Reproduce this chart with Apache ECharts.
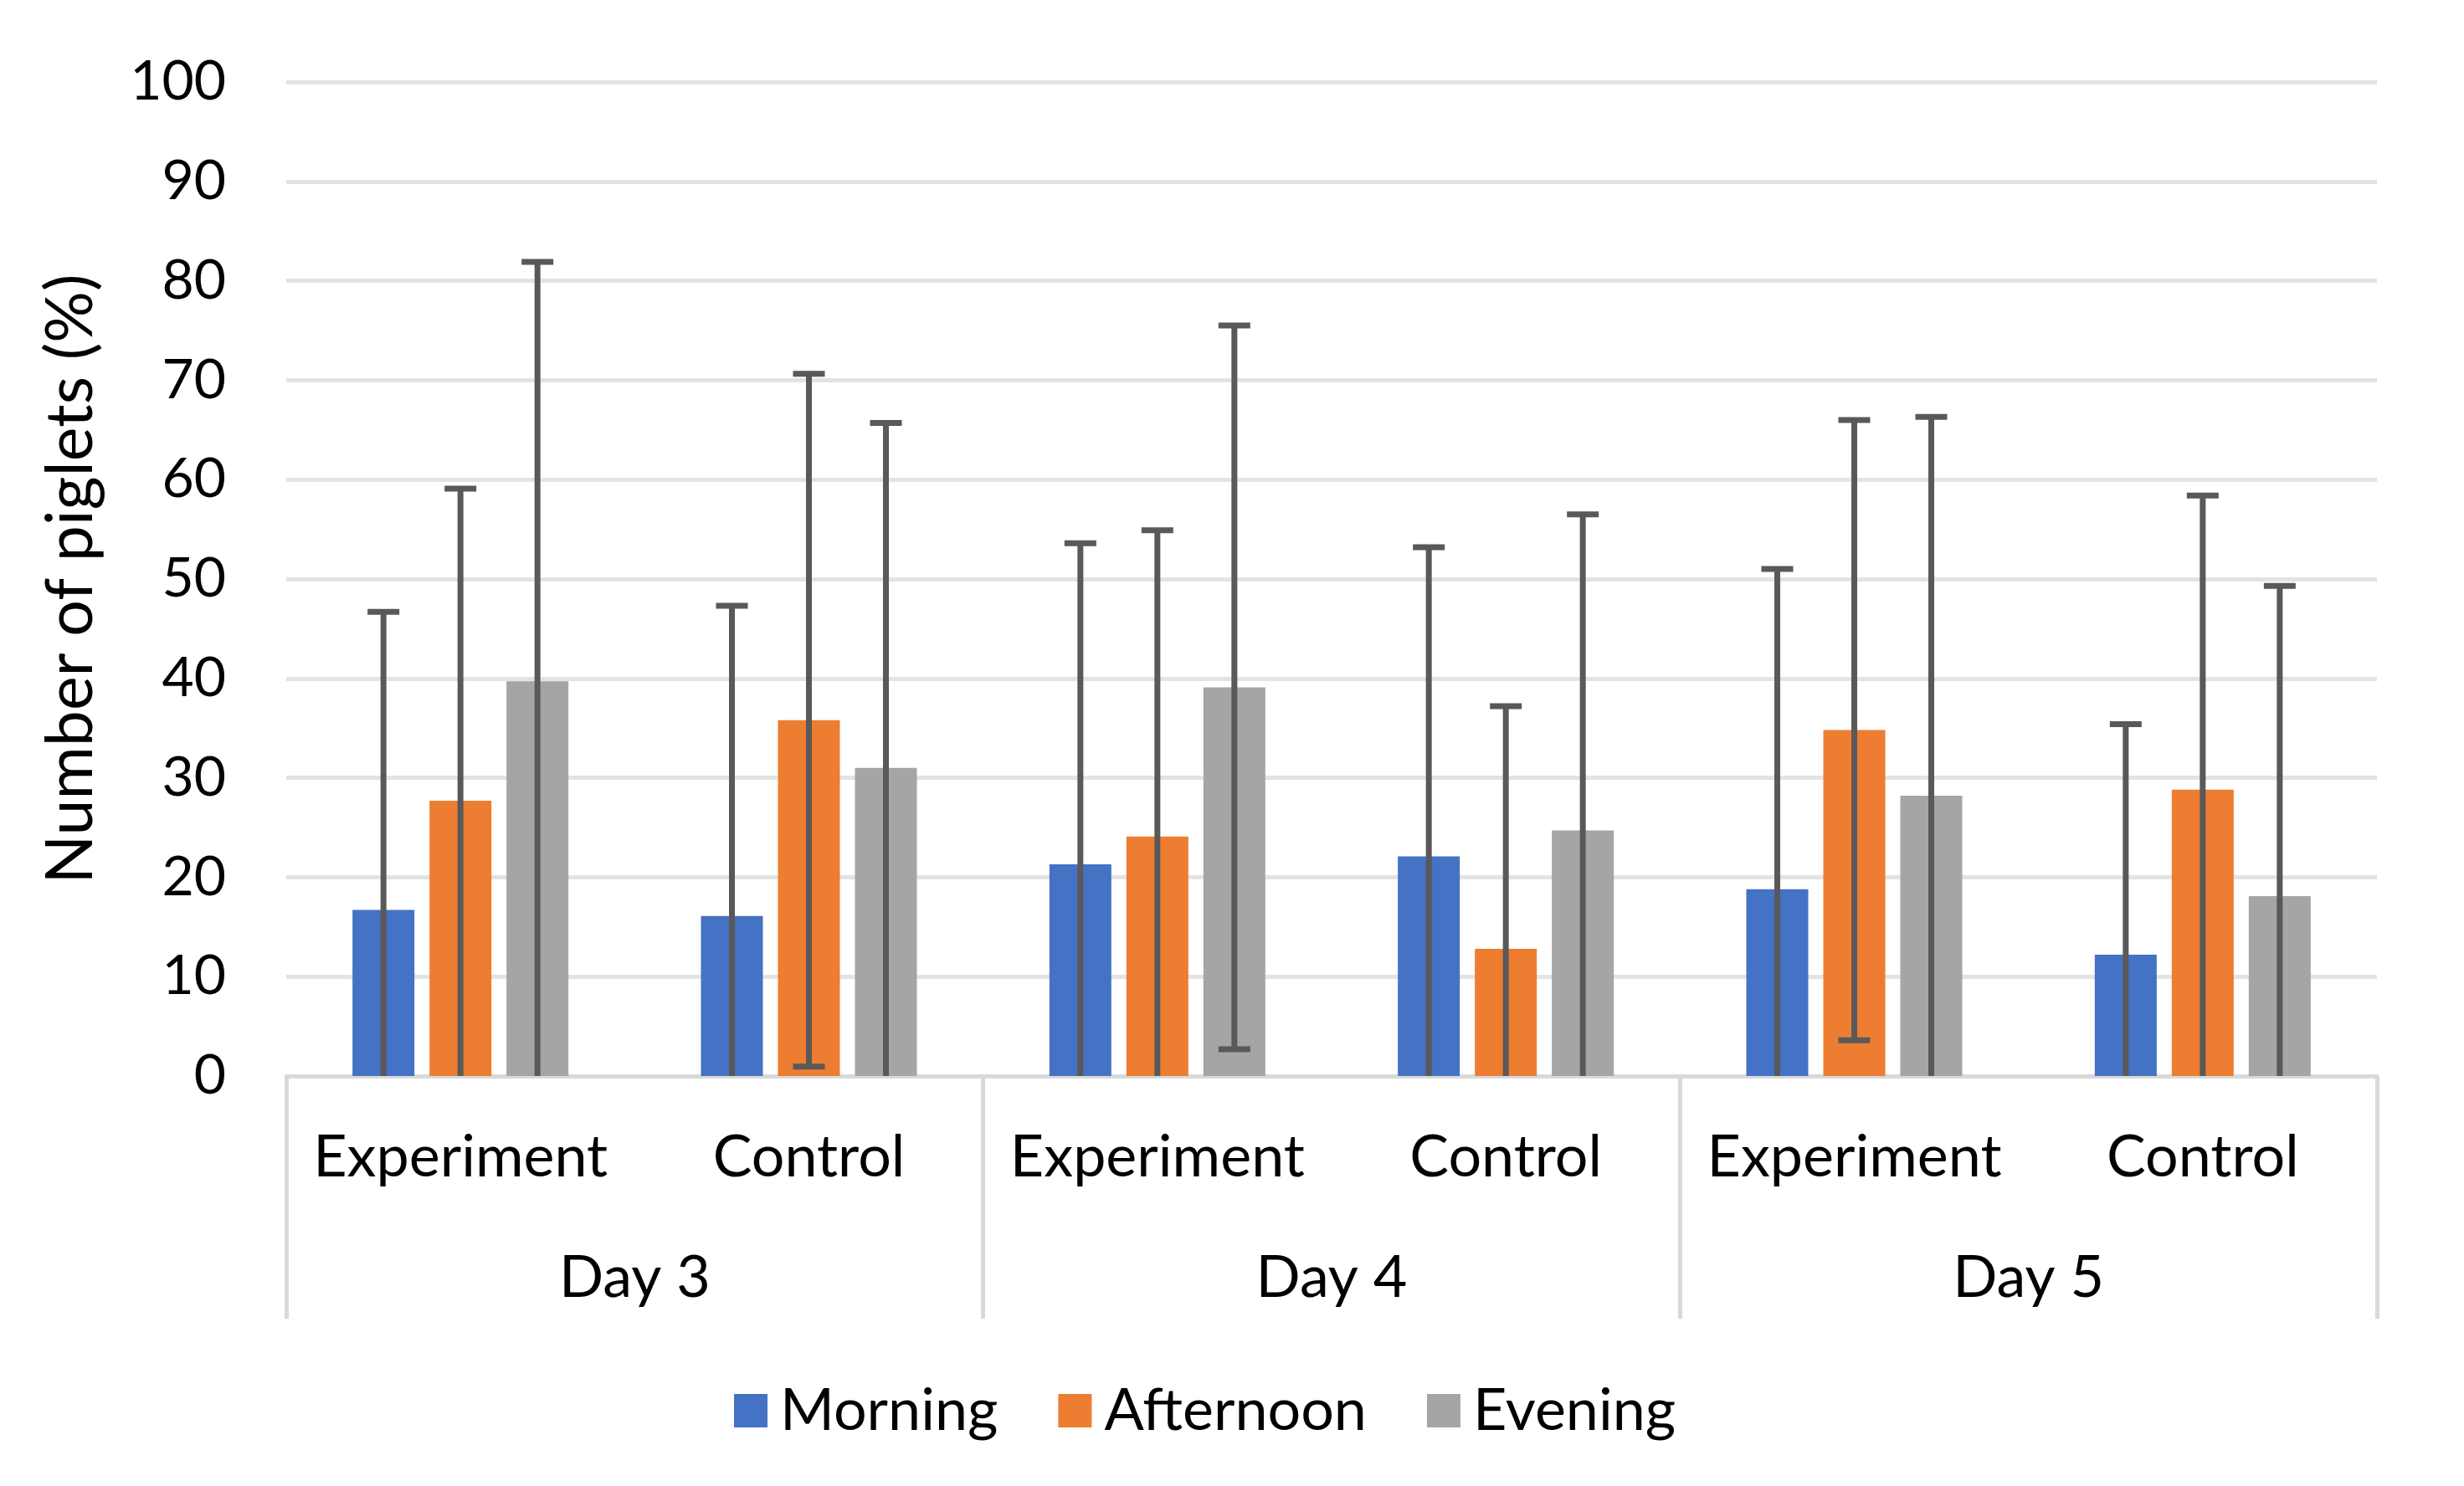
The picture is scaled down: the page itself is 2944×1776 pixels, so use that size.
<!DOCTYPE html>
<html>
<head>
<meta charset="utf-8">
<script src="https://cdn.jsdelivr.net/npm/echarts@6/dist/echarts.min.js"></script>
<style>html,body{margin:0;padding:0;background:#fff}#c{width:2944px;height:1776px}</style>
</head>
<body>
<div id="c"></div>
<script>
const groups = ['Experiment', 'Control', 'Experiment', 'Control', 'Experiment', 'Control'];
const days = ['Day 3', 'Day 4', 'Day 5'];
const seriesNames = ['Morning', 'Afternoon', 'Evening'];
const morning = [16.7, 16.1, 21.3, 22.1, 18.8, 12.2];
const afternoon = [27.7, 35.8, 24.1, 12.8, 34.8, 28.8];
const evening = [39.7, 31.0, 39.1, 24.7, 28.2, 18.1];
const morningSD = [30.0, 31.2, 32.3, 31.1, 32.2, 23.2];
const afternoonSD = [31.4, 34.85, 30.8, 24.4, 31.2, 29.6];
const eveningSD = [42.2, 34.7, 36.4, 31.8, 38.1, 31.2];
const yTicks = [0, 10, 20, 30, 40, 50, 60, 70, 80, 90, 100];

const colors = ['#4472C4', '#ED7D31', '#A5A5A5'];
const means = [morning, afternoon, evening];
const sds = [morningSD, afternoonSD, eveningSD];
const FONT = 'Lato';
const BAR_W = 74, BAR_GAP = 18;

const chart = echarts.init(document.getElementById('c'), null, {renderer: 'canvas'});

const barSeries = seriesNames.map((n, k) => ({
  name: n, type: 'bar', xAxisIndex: 0, yAxisIndex: 0,
  data: means[k], barWidth: BAR_W, barGap: (BAR_GAP / BAR_W * 100) + '%',
  itemStyle: {color: colors[k]}, z: 2
}));

const errSeries = seriesNames.map((n, k) => ({
  type: 'custom', xAxisIndex: 0, yAxisIndex: 0, z: 5, silent: true,
  data: means[k].map((m, i) => [i, m, sds[k][i]]),
  encode: {x: 0, y: 1},
  renderItem: function (params, api) {
    const i = api.value(0), m = api.value(1), s = api.value(2);
    const off = (k - 1) * (BAR_W + BAR_GAP);
    const lowV = m - s;
    const pHi = api.coord([i, m + s]);
    const pLo = api.coord([i, Math.max(0, lowV)]);
    const x = pHi[0] + off;
    const st = {stroke: '#595959', lineWidth: 7};
    const half = 19;
    const ch = [
      {type: 'line', shape: {x1: x, y1: pHi[1], x2: x, y2: pLo[1]}, style: st},
      {type: 'line', shape: {x1: x - half, y1: pHi[1], x2: x + half, y2: pHi[1]}, style: st}
    ];
    if (lowV > 0) ch.push({type: 'line', shape: {x1: x - half, y1: pLo[1], x2: x + half, y2: pLo[1]}, style: st});
    return {type: 'group', children: ch};
  }
}));

chart.setOption({
  backgroundColor: '#fff',
  animation: false,
  textStyle: {fontFamily: FONT},
  grid: {left: 342, right: 104, top: 98, bottom: 490},
  legend: {
    data: seriesNames, left: 872, top: 1646, icon: 'rect',
    itemWidth: 40, itemHeight: 40, itemGap: 72,
    textStyle: {fontFamily: FONT, fontSize: 70, color: '#000', padding: [0, 0, 0, 10]}
  },
  xAxis: [
    {
      type: 'category', data: groups, position: 'bottom',
      axisLine: {show: true, lineStyle: {color: '#d9d9d9', width: 5}},
      axisTick: {show: false},
      axisLabel: {fontFamily: FONT, fontSize: 70, color: '#000', margin: 62, interval: 0}
    },
    {
      type: 'category', data: days, position: 'bottom',
      axisLine: {show: false},
      axisTick: {show: true, length: 290, inside: false, lineStyle: {color: '#d9d9d9', width: 5}},
      axisLabel: {fontFamily: FONT, fontSize: 70, color: '#000', margin: 206, interval: 0}
    }
  ],
  yAxis: {
    type: 'value', min: yTicks[0], max: yTicks[yTicks.length - 1], interval: 10,
    name: 'Number of piglets (%)', nameLocation: 'middle', nameGap: 218,
    nameTextStyle: {fontFamily: FONT, fontSize: 77, color: '#000'},
    axisLine: {show: false}, axisTick: {show: false},
    axisLabel: {fontFamily: FONT, fontSize: 66, color: '#000', margin: 72},
    splitLine: {lineStyle: {color: '#e3e3e3', width: 5}}
  },
  series: barSeries.concat(errSeries)
});
</script>
</body>
</html>
